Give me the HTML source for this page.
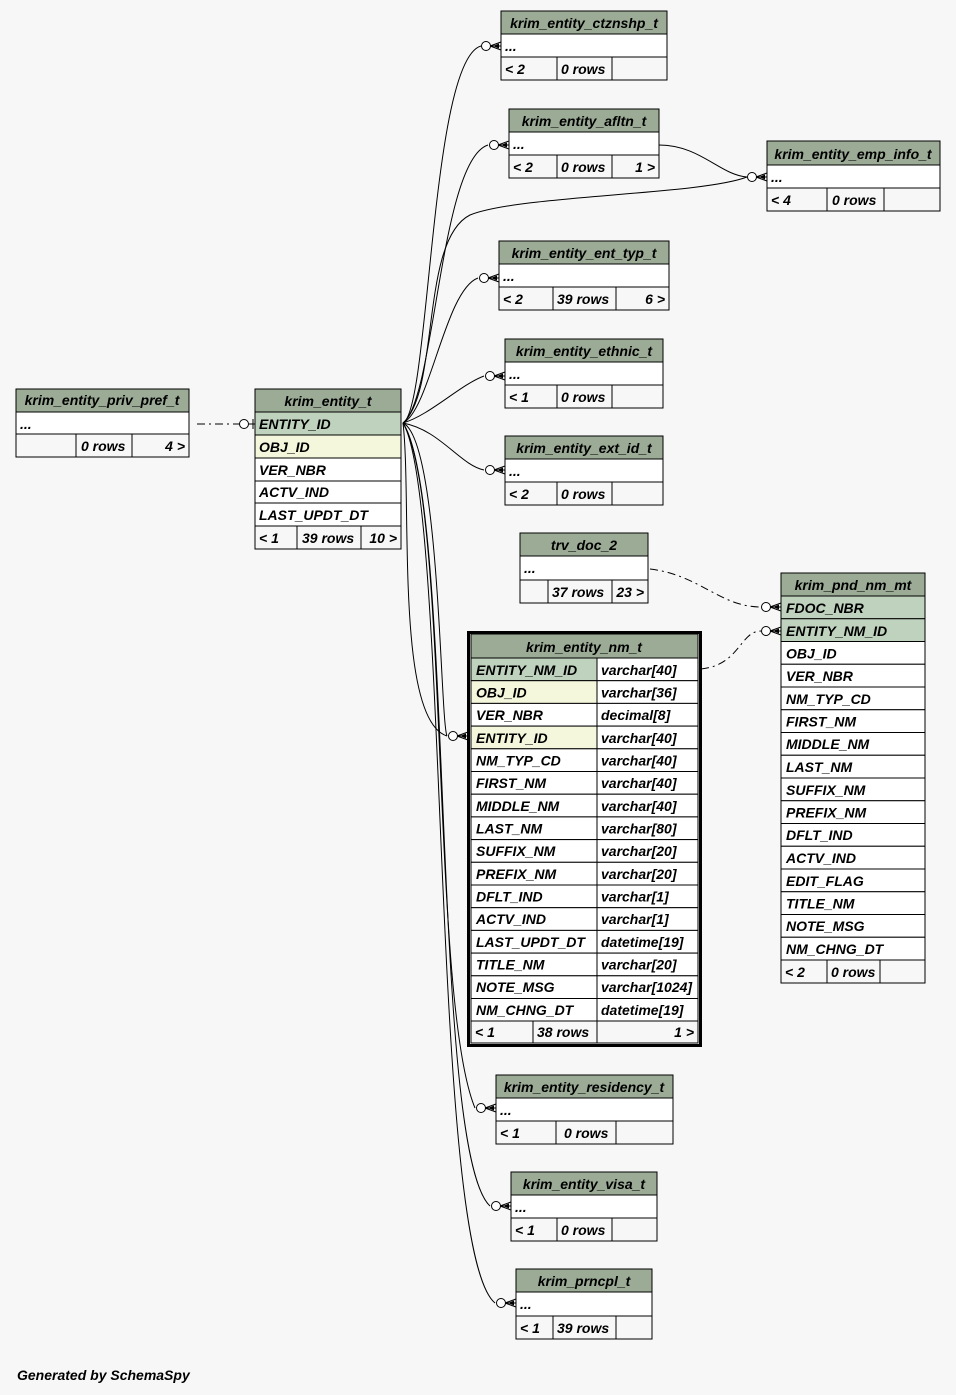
<!DOCTYPE html>
<html><head><meta charset="utf-8"><style>
html,body{margin:0;padding:0;background:#f7f7f7;}
svg{display:block;}
text{font-family:"Liberation Sans",Arial,sans-serif;font-size:14px;font-weight:bold;font-style:italic;fill:#000;}
.h{fill:#9bab96;stroke:#000;stroke-width:1}
.w{fill:#fff;stroke:#000;stroke-width:1}
.g{fill:#f7f7f7;stroke:#000;stroke-width:1}
.p{fill:#bed2bd;stroke:#000;stroke-width:1}
.i{fill:#f4f7dc;stroke:#000;stroke-width:1}
.e{fill:none;stroke:#000;stroke-width:1}
.d{fill:none;stroke:#000;stroke-width:1;stroke-dasharray:8,4,2,4}
.c{text-anchor:middle}
.r{text-anchor:end}
</style></head><body>
<svg width="956" height="1395" viewBox="0 0 956 1395" xmlns="http://www.w3.org/2000/svg">
<defs>
<g id="cf"><path d="M-11,0 L0,-4 M-11,0 L0,4 M-11,0 L0,0" stroke="#000" fill="none"/><path d="M-8,0 L-2,-2.5 L-2,2.5 Z" fill="#000"/><circle cx="-15" cy="0" r="4.5" fill="#fff" stroke="#000"/></g>
</defs>
<rect width="956" height="1395" fill="#f7f7f7"/>

<!-- edges -->
<path class="e" d="M403,423 C430,410 430,60 481,46"/>
<path class="e" d="M403,423 C435,400 440,160 488,145"/>
<path class="e" d="M403,423 C440,390 420,240 470,215 C520,195 700,195 747,177"/>
<path class="e" d="M659,145 C700,145 720,175 747,177"/>
<path class="e" d="M403,423 C430,410 445,290 478,278"/>
<path class="e" d="M403,423 C430,415 460,385 484,376"/>
<path class="e" d="M403,423 C440,430 460,465 484,470"/>
<path class="e" d="M403,423 C440,440 440,720 447,736"/>
<path class="e" d="M403,423 C412,500 395,720 447,736"/>
<path class="e" d="M403,423 C450,500 430,1000 475,1108"/>
<path class="e" d="M403,423 C455,500 430,1150 490,1206"/>
<path class="e" d="M403,423 C450,500 430,1250 495,1303"/>
<path class="d" d="M197,424 L240,424"/>
<circle cx="244" cy="424" r="4.5" fill="#fff" stroke="#000"/>
<path class="e" d="M249,424 L255,424 M253,419 L253,429"/>
<path class="d" d="M650,569 C700,575 720,607 761,607"/>
<path class="d" d="M701,669 C740,665 740,631 761,631"/>
<use href="#cf" x="501" y="46"/>
<use href="#cf" x="509" y="145"/>
<use href="#cf" x="767" y="177"/>
<use href="#cf" x="499" y="278"/>
<use href="#cf" x="505" y="376"/>
<use href="#cf" x="505" y="470"/>
<use href="#cf" x="468" y="736"/>
<use href="#cf" x="496" y="1108"/>
<use href="#cf" x="511" y="1206"/>
<use href="#cf" x="516" y="1303"/>
<use href="#cf" x="781" y="607"/>
<use href="#cf" x="781" y="631"/>

<!-- ctznshp -->
<rect class="h" x="501" y="11" width="166" height="23"/><text class="c" x="584" y="28">krim_entity_ctznshp_t</text>
<rect class="w" x="501" y="34" width="166" height="23"/><text x="505" y="51">...</text>
<rect class="g" x="501" y="57" width="56" height="23"/><rect class="g" x="557" y="57" width="55" height="23"/><rect class="g" x="612" y="57" width="55" height="23"/>
<text x="505" y="74">&lt; 2</text><text x="561" y="74">0 rows</text>

<!-- afltn -->
<rect class="h" x="509" y="109" width="150" height="23"/><text class="c" x="584" y="126">krim_entity_afltn_t</text>
<rect class="w" x="509" y="132" width="150" height="23"/><text x="513" y="149">...</text>
<rect class="g" x="509" y="155" width="48" height="23"/><rect class="g" x="557" y="155" width="55" height="23"/><rect class="g" x="612" y="155" width="47" height="23"/>
<text x="513" y="172">&lt; 2</text><text x="561" y="172">0 rows</text><text class="r" x="655" y="172">1 &gt;</text>

<!-- emp_info -->
<rect class="h" x="767" y="141" width="173" height="24"/><text class="c" x="853" y="159">krim_entity_emp_info_t</text>
<rect class="w" x="767" y="165" width="173" height="23"/><text x="771" y="182">...</text>
<rect class="g" x="767" y="188" width="60" height="23"/><rect class="g" x="827" y="188" width="57" height="23"/><rect class="g" x="884" y="188" width="56" height="23"/>
<text x="771" y="205">&lt; 4</text><text x="832" y="205">0 rows</text>

<!-- ent_typ -->
<rect class="h" x="499" y="241" width="170" height="23"/><text class="c" x="584" y="258">krim_entity_ent_typ_t</text>
<rect class="w" x="499" y="264" width="170" height="23"/><text x="503" y="281">...</text>
<rect class="g" x="499" y="287" width="54" height="23"/><rect class="g" x="553" y="287" width="63" height="23"/><rect class="g" x="616" y="287" width="53" height="23"/>
<text x="503" y="304">&lt; 2</text><text x="557" y="304">39 rows</text><text class="r" x="665" y="304">6 &gt;</text>

<!-- ethnic -->
<rect class="h" x="505" y="339" width="158" height="23"/><text class="c" x="584" y="356">krim_entity_ethnic_t</text>
<rect class="w" x="505" y="362" width="158" height="23"/><text x="509" y="379">...</text>
<rect class="g" x="505" y="385" width="52" height="23"/><rect class="g" x="557" y="385" width="55" height="23"/><rect class="g" x="612" y="385" width="51" height="23"/>
<text x="509" y="402">&lt; 1</text><text x="561" y="402">0 rows</text>

<!-- ext_id -->
<rect class="h" x="505" y="436" width="158" height="23"/><text class="c" x="584" y="453">krim_entity_ext_id_t</text>
<rect class="w" x="505" y="459" width="158" height="23"/><text x="509" y="476">...</text>
<rect class="g" x="505" y="482" width="52" height="23"/><rect class="g" x="557" y="482" width="55" height="23"/><rect class="g" x="612" y="482" width="51" height="23"/>
<text x="509" y="499">&lt; 2</text><text x="561" y="499">0 rows</text>

<!-- trv_doc_2 -->
<rect class="h" x="520" y="533" width="128" height="23"/><text class="c" x="584" y="550">trv_doc_2</text>
<rect class="w" x="520" y="556" width="128" height="24"/><text x="524" y="573">...</text>
<rect class="g" x="520" y="580" width="28" height="23"/><rect class="g" x="548" y="580" width="64" height="23"/><rect class="g" x="612" y="580" width="36" height="23"/>
<text x="552" y="597">37 rows</text><text class="r" x="644" y="597">23 &gt;</text>

<!-- priv_pref -->
<rect class="h" x="16" y="389" width="173" height="23"/><text class="c" x="102" y="405">krim_entity_priv_pref_t</text>
<rect class="w" x="16" y="412" width="173" height="22"/><text x="20" y="429">...</text>
<rect class="g" x="16" y="434" width="60" height="23"/><rect class="g" x="76" y="434" width="56" height="23"/><rect class="g" x="132" y="434" width="57" height="23"/>
<text x="81" y="451">0 rows</text><text class="r" x="185" y="451">4 &gt;</text>

<!-- krim_entity_t -->
<rect class="h" x="255" y="389" width="146" height="23"/><text class="c" x="328" y="406">krim_entity_t</text>
<rect class="p" x="255" y="412" width="146" height="23"/><text x="259" y="429">ENTITY_ID</text>
<rect class="i" x="255" y="435" width="146" height="23"/><text x="259" y="452">OBJ_ID</text>
<rect class="w" x="255" y="458" width="146" height="23"/><text x="259" y="475">VER_NBR</text>
<rect class="w" x="255" y="481" width="146" height="22"/><text x="259" y="497">ACTV_IND</text>
<rect class="w" x="255" y="503" width="146" height="23"/><text x="259" y="520">LAST_UPDT_DT</text>
<rect class="g" x="255" y="526" width="42" height="23"/><rect class="g" x="297" y="526" width="64" height="23"/><rect class="g" x="361" y="526" width="40" height="23"/>
<text x="259" y="543">&lt; 1</text><text x="302" y="543">39 rows</text><text class="r" x="397" y="543">10 &gt;</text>

<!-- krim_entity_nm_t -->
<rect x="468.5" y="632.5" width="232" height="413" fill="#fff" stroke="#000" stroke-width="3"/>
<rect class="h" x="471" y="634" width="227" height="24"/><text class="c" x="584" y="652">krim_entity_nm_t</text>
<g>
<rect class="p" x="471" y="658" width="126" height="22.7"/><rect class="w" x="597" y="658" width="101" height="22.7"/><text x="476" y="675">ENTITY_NM_ID</text><text x="601" y="675">varchar[40]</text>
<rect class="i" x="471" y="680.7" width="126" height="22.7"/><rect class="w" x="597" y="680.7" width="101" height="22.7"/><text x="476" y="697.5">OBJ_ID</text><text x="601" y="697.5">varchar[36]</text>
<rect class="w" x="471" y="703.4" width="126" height="22.7"/><rect class="w" x="597" y="703.4" width="101" height="22.7"/><text x="476" y="720">VER_NBR</text><text x="601" y="720">decimal[8]</text>
<rect class="i" x="471" y="726.1" width="126" height="22.7"/><rect class="w" x="597" y="726.1" width="101" height="22.7"/><text x="476" y="743">ENTITY_ID</text><text x="601" y="743">varchar[40]</text>
<rect class="w" x="471" y="748.8" width="126" height="22.7"/><rect class="w" x="597" y="748.8" width="101" height="22.7"/><text x="476" y="765.5">NM_TYP_CD</text><text x="601" y="765.5">varchar[40]</text>
<rect class="w" x="471" y="771.5" width="126" height="22.7"/><rect class="w" x="597" y="771.5" width="101" height="22.7"/><text x="476" y="788">FIRST_NM</text><text x="601" y="788">varchar[40]</text>
<rect class="w" x="471" y="794.2" width="126" height="22.7"/><rect class="w" x="597" y="794.2" width="101" height="22.7"/><text x="476" y="811">MIDDLE_NM</text><text x="601" y="811">varchar[40]</text>
<rect class="w" x="471" y="816.9" width="126" height="22.7"/><rect class="w" x="597" y="816.9" width="101" height="22.7"/><text x="476" y="833.5">LAST_NM</text><text x="601" y="833.5">varchar[80]</text>
<rect class="w" x="471" y="839.6" width="126" height="22.7"/><rect class="w" x="597" y="839.6" width="101" height="22.7"/><text x="476" y="856">SUFFIX_NM</text><text x="601" y="856">varchar[20]</text>
<rect class="w" x="471" y="862.3" width="126" height="22.7"/><rect class="w" x="597" y="862.3" width="101" height="22.7"/><text x="476" y="879">PREFIX_NM</text><text x="601" y="879">varchar[20]</text>
<rect class="w" x="471" y="885" width="126" height="22.7"/><rect class="w" x="597" y="885" width="101" height="22.7"/><text x="476" y="901.5">DFLT_IND</text><text x="601" y="901.5">varchar[1]</text>
<rect class="w" x="471" y="907.7" width="126" height="22.7"/><rect class="w" x="597" y="907.7" width="101" height="22.7"/><text x="476" y="924">ACTV_IND</text><text x="601" y="924">varchar[1]</text>
<rect class="w" x="471" y="930.4" width="126" height="22.7"/><rect class="w" x="597" y="930.4" width="101" height="22.7"/><text x="476" y="947">LAST_UPDT_DT</text><text x="601" y="947">datetime[19]</text>
<rect class="w" x="471" y="953.1" width="126" height="22.7"/><rect class="w" x="597" y="953.1" width="101" height="22.7"/><text x="476" y="969.5">TITLE_NM</text><text x="601" y="969.5">varchar[20]</text>
<rect class="w" x="471" y="975.8" width="126" height="22.7"/><rect class="w" x="597" y="975.8" width="101" height="22.7"/><text x="476" y="992">NOTE_MSG</text><text x="601" y="992">varchar[1024]</text>
<rect class="w" x="471" y="998.5" width="126" height="22.5"/><rect class="w" x="597" y="998.5" width="101" height="22.5"/><text x="476" y="1015">NM_CHNG_DT</text><text x="601" y="1015">datetime[19]</text>
</g>
<rect class="g" x="471" y="1021" width="62" height="22"/><rect class="g" x="533" y="1021" width="64" height="22"/><rect class="g" x="597" y="1021" width="101" height="22"/>
<text x="475" y="1037">&lt; 1</text><text x="537" y="1037">38 rows</text><text class="r" x="694" y="1037">1 &gt;</text>

<!-- krim_pnd_nm_mt -->
<rect class="h" x="781" y="573" width="144" height="23"/><text class="c" x="853" y="590">krim_pnd_nm_mt</text>
<rect class="p" x="781" y="596" width="144" height="22.75"/><text x="786" y="613">FDOC_NBR</text>
<rect class="p" x="781" y="618.75" width="144" height="22.75"/><text x="786" y="636">ENTITY_NM_ID</text>
<rect class="w" x="781" y="641.5" width="144" height="22.75"/><text x="786" y="658.5">OBJ_ID</text>
<rect class="w" x="781" y="664.25" width="144" height="22.75"/><text x="786" y="681">VER_NBR</text>
<rect class="w" x="781" y="687" width="144" height="22.75"/><text x="786" y="704">NM_TYP_CD</text>
<rect class="w" x="781" y="709.75" width="144" height="22.75"/><text x="786" y="726.5">FIRST_NM</text>
<rect class="w" x="781" y="732.5" width="144" height="22.75"/><text x="786" y="749">MIDDLE_NM</text>
<rect class="w" x="781" y="755.25" width="144" height="22.75"/><text x="786" y="772">LAST_NM</text>
<rect class="w" x="781" y="778" width="144" height="22.75"/><text x="786" y="795">SUFFIX_NM</text>
<rect class="w" x="781" y="800.75" width="144" height="22.75"/><text x="786" y="817.5">PREFIX_NM</text>
<rect class="w" x="781" y="823.5" width="144" height="22.75"/><text x="786" y="840">DFLT_IND</text>
<rect class="w" x="781" y="846.25" width="144" height="22.75"/><text x="786" y="863">ACTV_IND</text>
<rect class="w" x="781" y="869" width="144" height="22.75"/><text x="786" y="886">EDIT_FLAG</text>
<rect class="w" x="781" y="891.75" width="144" height="22.75"/><text x="786" y="908.5">TITLE_NM</text>
<rect class="w" x="781" y="914.5" width="144" height="22.75"/><text x="786" y="931">NOTE_MSG</text>
<rect class="w" x="781" y="937.25" width="144" height="22.75"/><text x="786" y="954">NM_CHNG_DT</text>
<rect class="g" x="781" y="960" width="46" height="23"/><rect class="g" x="827" y="960" width="53" height="23"/><rect class="g" x="880" y="960" width="45" height="23"/>
<text x="785" y="977">&lt; 2</text><text x="831" y="977">0 rows</text>

<!-- residency -->
<rect class="h" x="496" y="1075" width="177" height="23"/><text class="c" x="584" y="1092">krim_entity_residency_t</text>
<rect class="w" x="496" y="1098" width="177" height="23"/><text x="500" y="1115">...</text>
<rect class="g" x="496" y="1121" width="60" height="23"/><rect class="g" x="556" y="1121" width="60" height="23"/><rect class="g" x="616" y="1121" width="57" height="23"/>
<text x="500" y="1138">&lt; 1</text><text x="564" y="1138">0 rows</text>

<!-- visa -->
<rect class="h" x="511" y="1172" width="146" height="23"/><text class="c" x="584" y="1189">krim_entity_visa_t</text>
<rect class="w" x="511" y="1195" width="146" height="23"/><text x="515" y="1212">...</text>
<rect class="g" x="511" y="1218" width="46" height="23"/><rect class="g" x="557" y="1218" width="55" height="23"/><rect class="g" x="612" y="1218" width="45" height="23"/>
<text x="515" y="1235">&lt; 1</text><text x="561" y="1235">0 rows</text>

<!-- prncpl -->
<rect class="h" x="516" y="1269" width="136" height="23"/><text class="c" x="584" y="1286">krim_prncpl_t</text>
<rect class="w" x="516" y="1292" width="136" height="24"/><text x="520" y="1309">...</text>
<rect class="g" x="516" y="1316" width="37" height="23"/><rect class="g" x="553" y="1316" width="63" height="23"/><rect class="g" x="616" y="1316" width="36" height="23"/>
<text x="520" y="1333">&lt; 1</text><text x="557" y="1333">39 rows</text>

<text x="17" y="1380">Generated by SchemaSpy</text>
</svg>
</body></html>
